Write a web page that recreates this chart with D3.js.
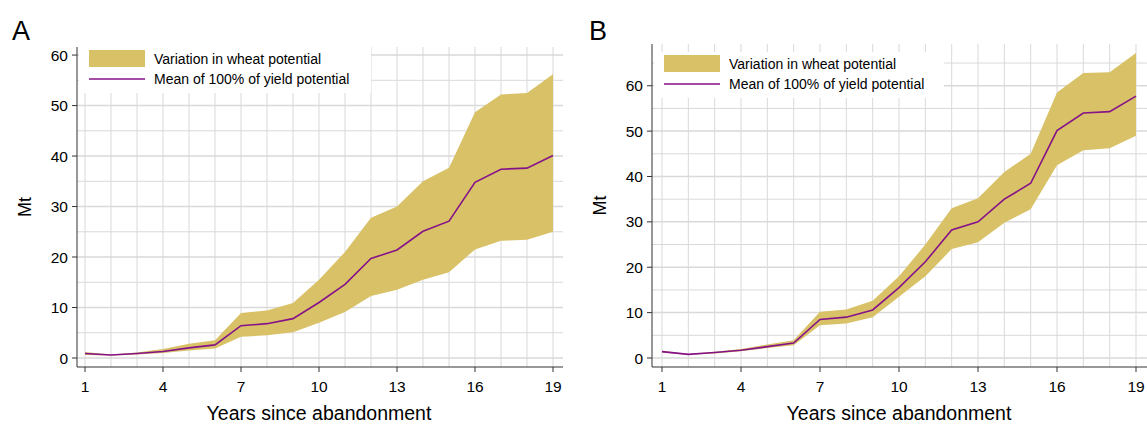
<!DOCTYPE html>
<html><head><meta charset="utf-8">
<script src="https://cdn.jsdelivr.net/npm/d3@7"></script>
<style>body{margin:0;background:#fff;font-family:"Liberation Sans",Arial,sans-serif}</style>
</head><body><svg id="c" width="1147" height="427"></svg>
<script>
const years = d3.range(1, 20);
const meanA = [0.9,0.6,0.9,1.3,2.0,2.6,6.4,6.8,7.8,11.0,14.6,19.7,21.4,25.1,27.1,34.8,37.4,37.6,40.1];
const lowA  = [0.6,0.5,0.7,1.0,1.5,1.9,4.2,4.5,5.1,7.0,9.1,12.3,13.5,15.5,17.0,21.5,23.2,23.4,25.0];
const highA = [1.2,0.7,1.1,1.8,2.8,3.5,8.9,9.4,10.9,15.5,21.0,27.8,30.0,35.0,37.7,48.7,52.2,52.5,56.2];
const meanB = [1.4,0.8,1.2,1.7,2.5,3.3,8.5,9.0,10.6,15.5,21.2,28.2,30.0,35.0,38.5,50.1,54.0,54.3,57.7];
const lowB  = [1.2,0.7,1.0,1.5,2.2,2.8,7.2,7.6,9.0,13.5,18.0,24.0,25.5,29.8,32.8,42.5,45.8,46.2,49.0];
const highB = [1.6,0.9,1.4,2.0,3.0,3.9,10.2,10.7,12.6,18.0,25.0,33.0,35.2,41.0,45.0,58.5,62.8,63.0,67.2];
const xTicks = [1,4,7,10,13,16,19];
const legendLabels = ["Variation in wheat potential", "Mean of 100% of yield potential"];

const svg = d3.select("#c");
const fillC = "#d8c166", lineC = "#86128a", gridC = "#d9d9d9";

function panel(o) {
  const g = svg.append("g");
  const x = d3.scaleLinear().domain([1, 19]).range([o.x1, o.x19]);
  const y = d3.scaleLinear().domain([0, o.ymax]).range([358, o.top]);
  const gridRight = o.gridRight;
  // grid
  g.selectAll(".vg").data(years).join("line")
    .attr("x1", d => x(d)).attr("x2", d => x(d)).attr("y1", o.top).attr("y2", 367)
    .attr("stroke", gridC).attr("stroke-width", 1);
  g.selectAll(".hg").data(d3.range(0, o.ymax, 5)).join("line")
    .attr("x1", o.axisX).attr("x2", gridRight).attr("y1", d => y(d)).attr("y2", d => y(d))
    .attr("stroke", gridC).attr("stroke-width", d => d % 10 === 0 ? 1.5 : 1);
  // band + line
  g.append("path").datum(years.map((yr, i) => [yr, o.low[i], o.high[i]]))
    .attr("fill", fillC)
    .attr("d", d3.area().x(d => x(d[0])).y0(d => y(d[1])).y1(d => y(d[2])));
  g.append("path").datum(years.map((yr, i) => [yr, o.mean[i]]))
    .attr("fill", "none").attr("stroke", lineC).attr("stroke-width", 1.6)
    .attr("d", d3.line().x(d => x(d[0])).y(d => y(d[1])));
  // axes
  g.append("line").attr("x1", o.axisX).attr("x2", o.axisX).attr("y1", o.top).attr("y2", 367).attr("stroke", "#333");
  g.append("line").attr("x1", o.axisX).attr("x2", gridRight).attr("y1", 367).attr("y2", 367).attr("stroke", "#333");
  g.selectAll(".xt").data(xTicks).join("line")
    .attr("x1", d => x(d)).attr("x2", d => x(d)).attr("y1", 367).attr("y2", 372).attr("stroke", "#333");
  g.selectAll(".xl").data(xTicks).join("text")
    .attr("x", d => x(d)).attr("y", 392).attr("text-anchor", "middle").attr("font-size", 15.5).text(d => d);
  const yT = d3.range(0, o.ymax, 10);
  g.selectAll(".yt").data(yT).join("line")
    .attr("x1", o.axisX - 5).attr("x2", o.axisX).attr("y1", d => y(d)).attr("y2", d => y(d)).attr("stroke", "#333");
  g.selectAll(".yl").data(yT).join("text")
    .attr("x", o.axisX - 9).attr("y", d => y(d) + 5.5).attr("text-anchor", "end").attr("font-size", 15.5).text(d => d);
  g.append("text").attr("transform", `translate(${o.axisX - 46},${(o.top + 367) / 2}) rotate(-90)`)
    .attr("text-anchor", "middle").attr("font-size", 18).text("Mt");
  g.append("text").attr("x", (o.x1 + o.x19) / 2).attr("y", 420)
    .attr("text-anchor", "middle").attr("font-size", 19.5).text("Years since abandonment");
  g.append("text").attr("x", o.letterX).attr("y", 40).attr("font-size", 27).text(o.letter);
  // legend
  const lx = o.axisX + 2, ly = o.legY;
  g.append("rect").attr("x", lx).attr("y", ly).attr("width", o.legW).attr("height", 46).attr("fill", "#fff");
  g.append("rect").attr("x", lx + 10).attr("y", ly + 3).attr("width", 56).attr("height", 17).attr("fill", fillC);
  g.append("line").attr("x1", lx + 10).attr("x2", lx + 66).attr("y1", ly + 32).attr("y2", ly + 32)
    .attr("stroke", lineC).attr("stroke-width", 1.6);
  g.selectAll(".lg").data(legendLabels).join("text")
    .attr("x", lx + 75).attr("y", (d, i) => ly + 17 + i * 20).attr("font-size", 14).text(d => d);
}

panel({letter: "A", letterX: 12, axisX: 77, x1: 85, x19: 553, gridRight: 563, top: 47, ymax: 61.6,
  mean: meanA, low: lowA, high: highA, legY: 47, legW: 292});
panel({letter: "B", letterX: 589, axisX: 652, x1: 662, x19: 1136, gridRight: 1147, top: 44, ymax: 69.2,
  mean: meanB, low: lowB, high: highB, legY: 52, legW: 290});
</script></body></html>
